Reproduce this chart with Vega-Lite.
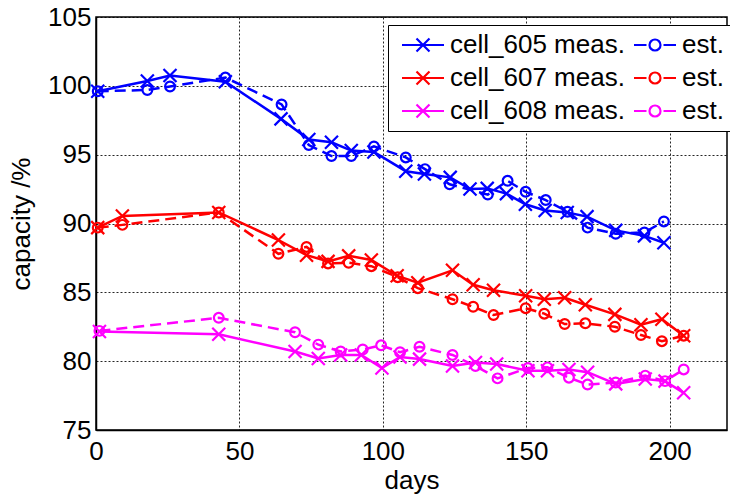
{
  "$schema": "https://vega.github.io/schema/vega-lite/v6.json",
  "width": 631,
  "height": 413,
  "autosize": {"type": "none"},
  "padding": {"left": 96, "top": 17, "right": 3, "bottom": 67},
  "title": {"text": "approximation of degradation", "anchor": "middle", "frame": "group", "offset": -8, "baseline": "alphabetic", "fontSize": 28, "font": "Liberation Sans", "fontWeight": "normal", "color": "black"},
  "config": {
    "font": "Liberation Sans",
    "view": {"stroke": "black", "strokeWidth": 1.5},
    "axis": {"labelFont": "Liberation Sans", "titleFont": "Liberation Sans", "labelFontSize": 26, "titleFontSize": 26, "titleFontWeight": "normal", "labelColor": "black", "titleColor": "black", "domainColor": "black", "domainWidth": 1.5, "ticks": false, "grid": true, "gridColor": "black", "gridDash": [2, 2], "gridOpacity": 0.85, "gridWidth": 1, "labelFlush": false},
    "legend": {"labelFont": "Liberation Sans"}
  },
  "data": {"values": [
    {"cell": "cell_605", "kind": "meas.", "day": 0.6, "cap": 99.6},
    {"cell": "cell_605", "kind": "meas.", "day": 17.9, "cap": 100.35},
    {"cell": "cell_605", "kind": "meas.", "day": 25.8, "cap": 100.75},
    {"cell": "cell_605", "kind": "meas.", "day": 45.1, "cap": 100.3},
    {"cell": "cell_605", "kind": "meas.", "day": 64.5, "cap": 97.6},
    {"cell": "cell_605", "kind": "meas.", "day": 74.2, "cap": 96.1},
    {"cell": "cell_605", "kind": "meas.", "day": 82.1, "cap": 95.9},
    {"cell": "cell_605", "kind": "meas.", "day": 89, "cap": 95.3},
    {"cell": "cell_605", "kind": "meas.", "day": 96.9, "cap": 95.2},
    {"cell": "cell_605", "kind": "meas.", "day": 108, "cap": 93.8},
    {"cell": "cell_605", "kind": "meas.", "day": 114.5, "cap": 93.6},
    {"cell": "cell_605", "kind": "meas.", "day": 123.5, "cap": 93.35},
    {"cell": "cell_605", "kind": "meas.", "day": 130.4, "cap": 92.5},
    {"cell": "cell_605", "kind": "meas.", "day": 136.4, "cap": 92.55},
    {"cell": "cell_605", "kind": "meas.", "day": 143.1, "cap": 92.17},
    {"cell": "cell_605", "kind": "meas.", "day": 149.7, "cap": 91.4},
    {"cell": "cell_605", "kind": "meas.", "day": 156.6, "cap": 90.95},
    {"cell": "cell_605", "kind": "meas.", "day": 164.3, "cap": 90.8},
    {"cell": "cell_605", "kind": "meas.", "day": 171.2, "cap": 90.5},
    {"cell": "cell_605", "kind": "meas.", "day": 181.2, "cap": 89.5},
    {"cell": "cell_605", "kind": "meas.", "day": 191.2, "cap": 89.1},
    {"cell": "cell_605", "kind": "meas.", "day": 198, "cap": 88.6},
    {"cell": "cell_605", "kind": "est.", "day": 0.6, "cap": 99.6},
    {"cell": "cell_605", "kind": "est.", "day": 17.9, "cap": 99.7},
    {"cell": "cell_605", "kind": "est.", "day": 25.8, "cap": 99.95},
    {"cell": "cell_605", "kind": "est.", "day": 45.1, "cap": 100.6},
    {"cell": "cell_605", "kind": "est.", "day": 64.7, "cap": 98.65},
    {"cell": "cell_605", "kind": "est.", "day": 74.2, "cap": 95.7},
    {"cell": "cell_605", "kind": "est.", "day": 82.1, "cap": 94.9},
    {"cell": "cell_605", "kind": "est.", "day": 89, "cap": 94.9},
    {"cell": "cell_605", "kind": "est.", "day": 96.9, "cap": 95.6},
    {"cell": "cell_605", "kind": "est.", "day": 108, "cap": 94.8},
    {"cell": "cell_605", "kind": "est.", "day": 114.7, "cap": 93.95},
    {"cell": "cell_605", "kind": "est.", "day": 123.3, "cap": 92.85},
    {"cell": "cell_605", "kind": "est.", "day": 136.6, "cap": 92.1},
    {"cell": "cell_605", "kind": "est.", "day": 143.5, "cap": 93.1},
    {"cell": "cell_605", "kind": "est.", "day": 149.8, "cap": 92.3},
    {"cell": "cell_605", "kind": "est.", "day": 156.8, "cap": 91.7},
    {"cell": "cell_605", "kind": "est.", "day": 164.4, "cap": 90.85},
    {"cell": "cell_605", "kind": "est.", "day": 171.4, "cap": 89.7},
    {"cell": "cell_605", "kind": "est.", "day": 181.2, "cap": 89.25},
    {"cell": "cell_605", "kind": "est.", "day": 191.2, "cap": 89.35},
    {"cell": "cell_605", "kind": "est.", "day": 198, "cap": 90.15},
    {"cell": "cell_607", "kind": "meas.", "day": 0.6, "cap": 89.7},
    {"cell": "cell_607", "kind": "meas.", "day": 9.2, "cap": 90.55},
    {"cell": "cell_607", "kind": "meas.", "day": 42.8, "cap": 90.8},
    {"cell": "cell_607", "kind": "meas.", "day": 63.6, "cap": 88.8},
    {"cell": "cell_607", "kind": "meas.", "day": 73.4, "cap": 87.7},
    {"cell": "cell_607", "kind": "meas.", "day": 80.9, "cap": 87.25},
    {"cell": "cell_607", "kind": "meas.", "day": 88.1, "cap": 87.65},
    {"cell": "cell_607", "kind": "meas.", "day": 96, "cap": 87.35},
    {"cell": "cell_607", "kind": "meas.", "day": 105, "cap": 86.2},
    {"cell": "cell_607", "kind": "meas.", "day": 112.2, "cap": 85.7},
    {"cell": "cell_607", "kind": "meas.", "day": 124.3, "cap": 86.6},
    {"cell": "cell_607", "kind": "meas.", "day": 131.5, "cap": 85.55},
    {"cell": "cell_607", "kind": "meas.", "day": 138.6, "cap": 85.15},
    {"cell": "cell_607", "kind": "meas.", "day": 149.8, "cap": 84.75},
    {"cell": "cell_607", "kind": "meas.", "day": 156.3, "cap": 84.5},
    {"cell": "cell_607", "kind": "meas.", "day": 163.4, "cap": 84.6},
    {"cell": "cell_607", "kind": "meas.", "day": 170.6, "cap": 84.1},
    {"cell": "cell_607", "kind": "meas.", "day": 180.9, "cap": 83.4},
    {"cell": "cell_607", "kind": "meas.", "day": 190, "cap": 82.65},
    {"cell": "cell_607", "kind": "meas.", "day": 197.3, "cap": 83.05},
    {"cell": "cell_607", "kind": "meas.", "day": 204.9, "cap": 81.85},
    {"cell": "cell_607", "kind": "est.", "day": 0.6, "cap": 89.7},
    {"cell": "cell_607", "kind": "est.", "day": 9.2, "cap": 89.9},
    {"cell": "cell_607", "kind": "est.", "day": 42.8, "cap": 90.8},
    {"cell": "cell_607", "kind": "est.", "day": 63.6, "cap": 87.8},
    {"cell": "cell_607", "kind": "est.", "day": 73.4, "cap": 88.3},
    {"cell": "cell_607", "kind": "est.", "day": 80.9, "cap": 87.1},
    {"cell": "cell_607", "kind": "est.", "day": 88.1, "cap": 87.15},
    {"cell": "cell_607", "kind": "est.", "day": 96, "cap": 86.9},
    {"cell": "cell_607", "kind": "est.", "day": 105.2, "cap": 86.1},
    {"cell": "cell_607", "kind": "est.", "day": 112.2, "cap": 85.3},
    {"cell": "cell_607", "kind": "est.", "day": 124.3, "cap": 84.5},
    {"cell": "cell_607", "kind": "est.", "day": 131.5, "cap": 83.95},
    {"cell": "cell_607", "kind": "est.", "day": 138.6, "cap": 83.35},
    {"cell": "cell_607", "kind": "est.", "day": 149.8, "cap": 83.85},
    {"cell": "cell_607", "kind": "est.", "day": 156.3, "cap": 83.45},
    {"cell": "cell_607", "kind": "est.", "day": 163.4, "cap": 82.7},
    {"cell": "cell_607", "kind": "est.", "day": 170.6, "cap": 82.75},
    {"cell": "cell_607", "kind": "est.", "day": 180.9, "cap": 82.5},
    {"cell": "cell_607", "kind": "est.", "day": 190, "cap": 81.9},
    {"cell": "cell_607", "kind": "est.", "day": 197.3, "cap": 81.45},
    {"cell": "cell_607", "kind": "est.", "day": 204.9, "cap": 81.85},
    {"cell": "cell_608", "kind": "meas.", "day": 1.2, "cap": 82.15},
    {"cell": "cell_608", "kind": "meas.", "day": 42.8, "cap": 81.95},
    {"cell": "cell_608", "kind": "meas.", "day": 69.4, "cap": 80.7},
    {"cell": "cell_608", "kind": "meas.", "day": 77.5, "cap": 80.2},
    {"cell": "cell_608", "kind": "meas.", "day": 85.3, "cap": 80.45},
    {"cell": "cell_608", "kind": "meas.", "day": 92.5, "cap": 80.45},
    {"cell": "cell_608", "kind": "meas.", "day": 99.7, "cap": 79.5},
    {"cell": "cell_608", "kind": "meas.", "day": 106, "cap": 80.3},
    {"cell": "cell_608", "kind": "meas.", "day": 112.8, "cap": 80.15},
    {"cell": "cell_608", "kind": "meas.", "day": 124.3, "cap": 79.65},
    {"cell": "cell_608", "kind": "meas.", "day": 132.3, "cap": 79.9},
    {"cell": "cell_608", "kind": "meas.", "day": 139.7, "cap": 79.8},
    {"cell": "cell_608", "kind": "meas.", "day": 150.6, "cap": 79.3},
    {"cell": "cell_608", "kind": "meas.", "day": 157.4, "cap": 79.3},
    {"cell": "cell_608", "kind": "meas.", "day": 164.9, "cap": 79.4},
    {"cell": "cell_608", "kind": "meas.", "day": 171.4, "cap": 79.2},
    {"cell": "cell_608", "kind": "meas.", "day": 181.2, "cap": 78.35},
    {"cell": "cell_608", "kind": "meas.", "day": 191.5, "cap": 78.7},
    {"cell": "cell_608", "kind": "meas.", "day": 198.4, "cap": 78.55},
    {"cell": "cell_608", "kind": "meas.", "day": 204.9, "cap": 77.7},
    {"cell": "cell_608", "kind": "est.", "day": 1.2, "cap": 82.2},
    {"cell": "cell_608", "kind": "est.", "day": 42.8, "cap": 83.15},
    {"cell": "cell_608", "kind": "est.", "day": 69.4, "cap": 82.1},
    {"cell": "cell_608", "kind": "est.", "day": 77.5, "cap": 81.2},
    {"cell": "cell_608", "kind": "est.", "day": 85.3, "cap": 80.7},
    {"cell": "cell_608", "kind": "est.", "day": 93, "cap": 80.85},
    {"cell": "cell_608", "kind": "est.", "day": 99.4, "cap": 81.15},
    {"cell": "cell_608", "kind": "est.", "day": 106, "cap": 80.65},
    {"cell": "cell_608", "kind": "est.", "day": 112.8, "cap": 81.05},
    {"cell": "cell_608", "kind": "est.", "day": 124.3, "cap": 80.45},
    {"cell": "cell_608", "kind": "est.", "day": 132.3, "cap": 79.65},
    {"cell": "cell_608", "kind": "est.", "day": 140, "cap": 78.75},
    {"cell": "cell_608", "kind": "est.", "day": 150.6, "cap": 79.5},
    {"cell": "cell_608", "kind": "est.", "day": 157.4, "cap": 79.55},
    {"cell": "cell_608", "kind": "est.", "day": 164.9, "cap": 78.8},
    {"cell": "cell_608", "kind": "est.", "day": 171.4, "cap": 78.3},
    {"cell": "cell_608", "kind": "est.", "day": 181.2, "cap": 78.45},
    {"cell": "cell_608", "kind": "est.", "day": 191.5, "cap": 78.95},
    {"cell": "cell_608", "kind": "est.", "day": 198.4, "cap": 78.55},
    {"cell": "cell_608", "kind": "est.", "day": 204.9, "cap": 79.4}
  ]},
  "encoding": {
    "x": {"field": "day", "type": "quantitative", "scale": {"domain": [0, 220], "nice": false, "zero": false},
      "axis": {"values": [0, 50, 100, 150, 200], "title": "days", "labelPadding": 8, "titlePadding": 3}},
    "y": {"field": "cap", "type": "quantitative", "scale": {"domain": [75, 105], "nice": false, "zero": false},
      "axis": {"values": [75, 80, 85, 90, 95, 100, 105], "title": "capacity /%", "labelPadding": 5, "titlePadding": 13}}
  },
  "layer": [
    {
      "transform": [{"filter": "datum.kind == 'meas.'"}],
      "mark": {"type": "line", "strokeWidth": 2.5},
      "encoding": {"color": {"field": "cell", "type": "nominal", "scale": {"domain": ["cell_605", "cell_607", "cell_608"], "range": ["#0000ff", "#ff0000", "#ff00ff"]}, "legend": null}}
    },
    {
      "transform": [{"filter": "datum.kind == 'est.'"}],
      "mark": {"type": "line", "strokeWidth": 2.5, "strokeDash": [11, 6]},
      "encoding": {"color": {"field": "cell", "type": "nominal", "legend": null}}
    },
    {
      "transform": [{"filter": "datum.kind == 'meas.'"}],
      "mark": {"type": "point", "shape": "M-1,-1L1,1M-1,1L1,-1", "filled": false, "size": 169, "strokeWidth": 2.2, "opacity": 1},
      "encoding": {"color": {"field": "cell", "type": "nominal", "legend": null}}
    },
    {
      "transform": [{"filter": "datum.kind == 'est.'"}],
      "mark": {"type": "point", "shape": "circle", "filled": false, "size": 95, "strokeWidth": 2.2, "opacity": 1},
      "encoding": {"color": {"field": "cell", "type": "nominal", "legend": null}}
    },
    {
      "transform": [{"calculate": "datum.cell + ' ' + datum.kind", "as": "key"}],
      "mark": {"type": "point", "filled": false, "opacity": 0},
      "encoding": {
        "stroke": {"field": "key", "type": "nominal",
          "scale": {"domain": ["cell_605 meas.", "cell_607 meas.", "cell_608 meas.", "cell_605 est.", "cell_607 est.", "cell_608 est."],
                    "range": ["#0000ff", "#ff0000", "#ff00ff", "#0000ff", "#ff0000", "#ff00ff"]},
          "legend": {"title": null, "orient": "none", "legendX": 292, "legendY": 8, "columns": 2, "columnPadding": 2, "rowPadding": 7, "padding": 7, "symbolSize": 400, "symbolStrokeWidth": 2.2, "symbolOpacity": 1, "symbolFillColor": "transparent", "labelFontSize": 26, "labelOffset": 29, "labelColor": "black", "labelLimit": 400, "strokeColor": "black", "fillColor": "white", "labelExpr": "substring(datum.label, 9) == 'est.' ? 'est.' : datum.label"}},
        "shape": {"field": "key", "type": "nominal",
          "scale": {"domain": ["cell_605 meas.", "cell_607 meas.", "cell_608 meas.", "cell_605 est.", "cell_607 est.", "cell_608 est."],
                    "range": ["M-0.6,0L3.6,0M0.85,-0.65L2.15,0.65M0.85,0.65L2.15,-0.65", "M-0.6,0L3.6,0M0.85,-0.65L2.15,0.65M0.85,0.65L2.15,-0.65", "M-0.6,0L3.6,0M0.85,-0.65L2.15,0.65M0.85,0.65L2.15,-0.65", "M-0.6,0L0.65,0M2.35,0L3.6,0M2.05,0A0.55,0.55,0,1,1,0.95,0A0.55,0.55,0,1,1,2.05,0", "M-0.6,0L0.65,0M2.35,0L3.6,0M2.05,0A0.55,0.55,0,1,1,0.95,0A0.55,0.55,0,1,1,2.05,0", "M-0.6,0L0.65,0M2.35,0L3.6,0M2.05,0A0.55,0.55,0,1,1,0.95,0A0.55,0.55,0,1,1,2.05,0"]},
          "legend": {"title": null, "orient": "none", "legendX": 292, "legendY": 8, "columns": 2, "columnPadding": 2, "rowPadding": 7, "padding": 7, "symbolSize": 400, "symbolStrokeWidth": 2.2, "symbolOpacity": 1, "symbolFillColor": "transparent", "labelFontSize": 26, "labelOffset": 29, "labelColor": "black", "labelLimit": 400, "strokeColor": "black", "fillColor": "white", "labelExpr": "substring(datum.label, 9) == 'est.' ? 'est.' : datum.label"}}
      }
    }
  ]
}
